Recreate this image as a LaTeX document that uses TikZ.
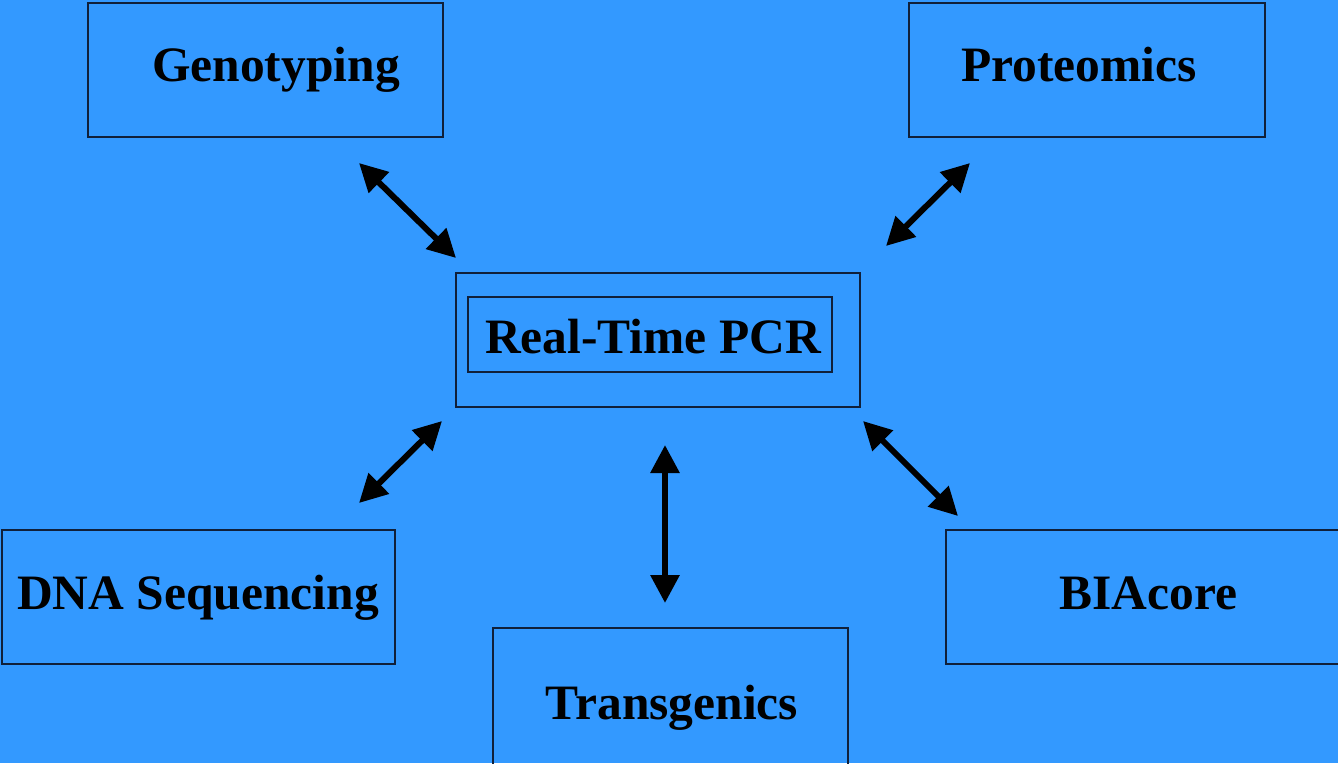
\documentclass[tikz,border=0pt]{standalone}
\usepackage{fontspec}
\setmainfont{Liberation Serif}
\usetikzlibrary{arrows.meta}
\definecolor{bg}{HTML}{3399FF}
\definecolor{edge}{HTML}{10203A}
\tikzset{
  box/.style={draw=edge, line width=1.2pt, inner sep=0pt, rectangle},
  lbl/.style={anchor=base, inner sep=0pt, font=\fontsize{49.5}{55}\selectfont\bfseries},
  arr/.style={line width=6pt, {Triangle[length=28pt,width=28pt]}-{Triangle[length=28pt,width=28pt]}}
}
\begin{document}
\begin{tikzpicture}[x=1pt,y=-1pt]
\useasboundingbox[fill=bg] (0,0) rectangle (1338,763);
% boxes
\node[box, minimum width=355pt, minimum height=134pt] (geno) at (265.5,70) {};
\node[box, minimum width=356pt, minimum height=134pt] (prot) at (1087,70) {};
\node[box, minimum width=404pt, minimum height=134pt] (pcrout) at (658,340) {};
\node[box, minimum width=364pt, minimum height=75pt] (pcrin) at (650,334.5) {};
\node[box, minimum width=393pt, minimum height=134pt] (dna) at (198.5,597) {};
\node[box, minimum width=400pt, minimum height=134pt] (bia) at (1146,597) {};
\node[box, minimum width=355pt, minimum height=140pt] (trans) at (670.5,698) {};
% labels
\node[lbl] (genoT) at (276,81) {Genotyping};
\node[lbl] (protT) at (1079,81) {Proteomics};
\node[lbl] (pcrT) at (653,353) {Real-Time PCR};
\node[lbl] (dnaT) at (198,609) {DNA Sequencing};
\node[lbl] (biaT) at (1148.5,609) {BIAcore};
\node[lbl] (transT) at (672,719) {Transgenics};
% arrow end points
\coordinate (a1s) at (359,163); \coordinate (a1e) at (456,258);
\coordinate (a2s) at (970,163); \coordinate (a2e) at (886,246);
\coordinate (a3s) at (442,421); \coordinate (a3e) at (359,503);
\coordinate (a4s) at (863,421); \coordinate (a4e) at (958,516);
\coordinate (a5s) at (665,445); \coordinate (a5e) at (665,603);
\draw[arr] (a1s) -- (a1e);
\draw[arr] (a2s) -- (a2e);
\draw[arr] (a3s) -- (a3e);
\draw[arr] (a4s) -- (a4e);
\draw[arr] (a5s) -- (a5e);
\end{tikzpicture}
\end{document}
